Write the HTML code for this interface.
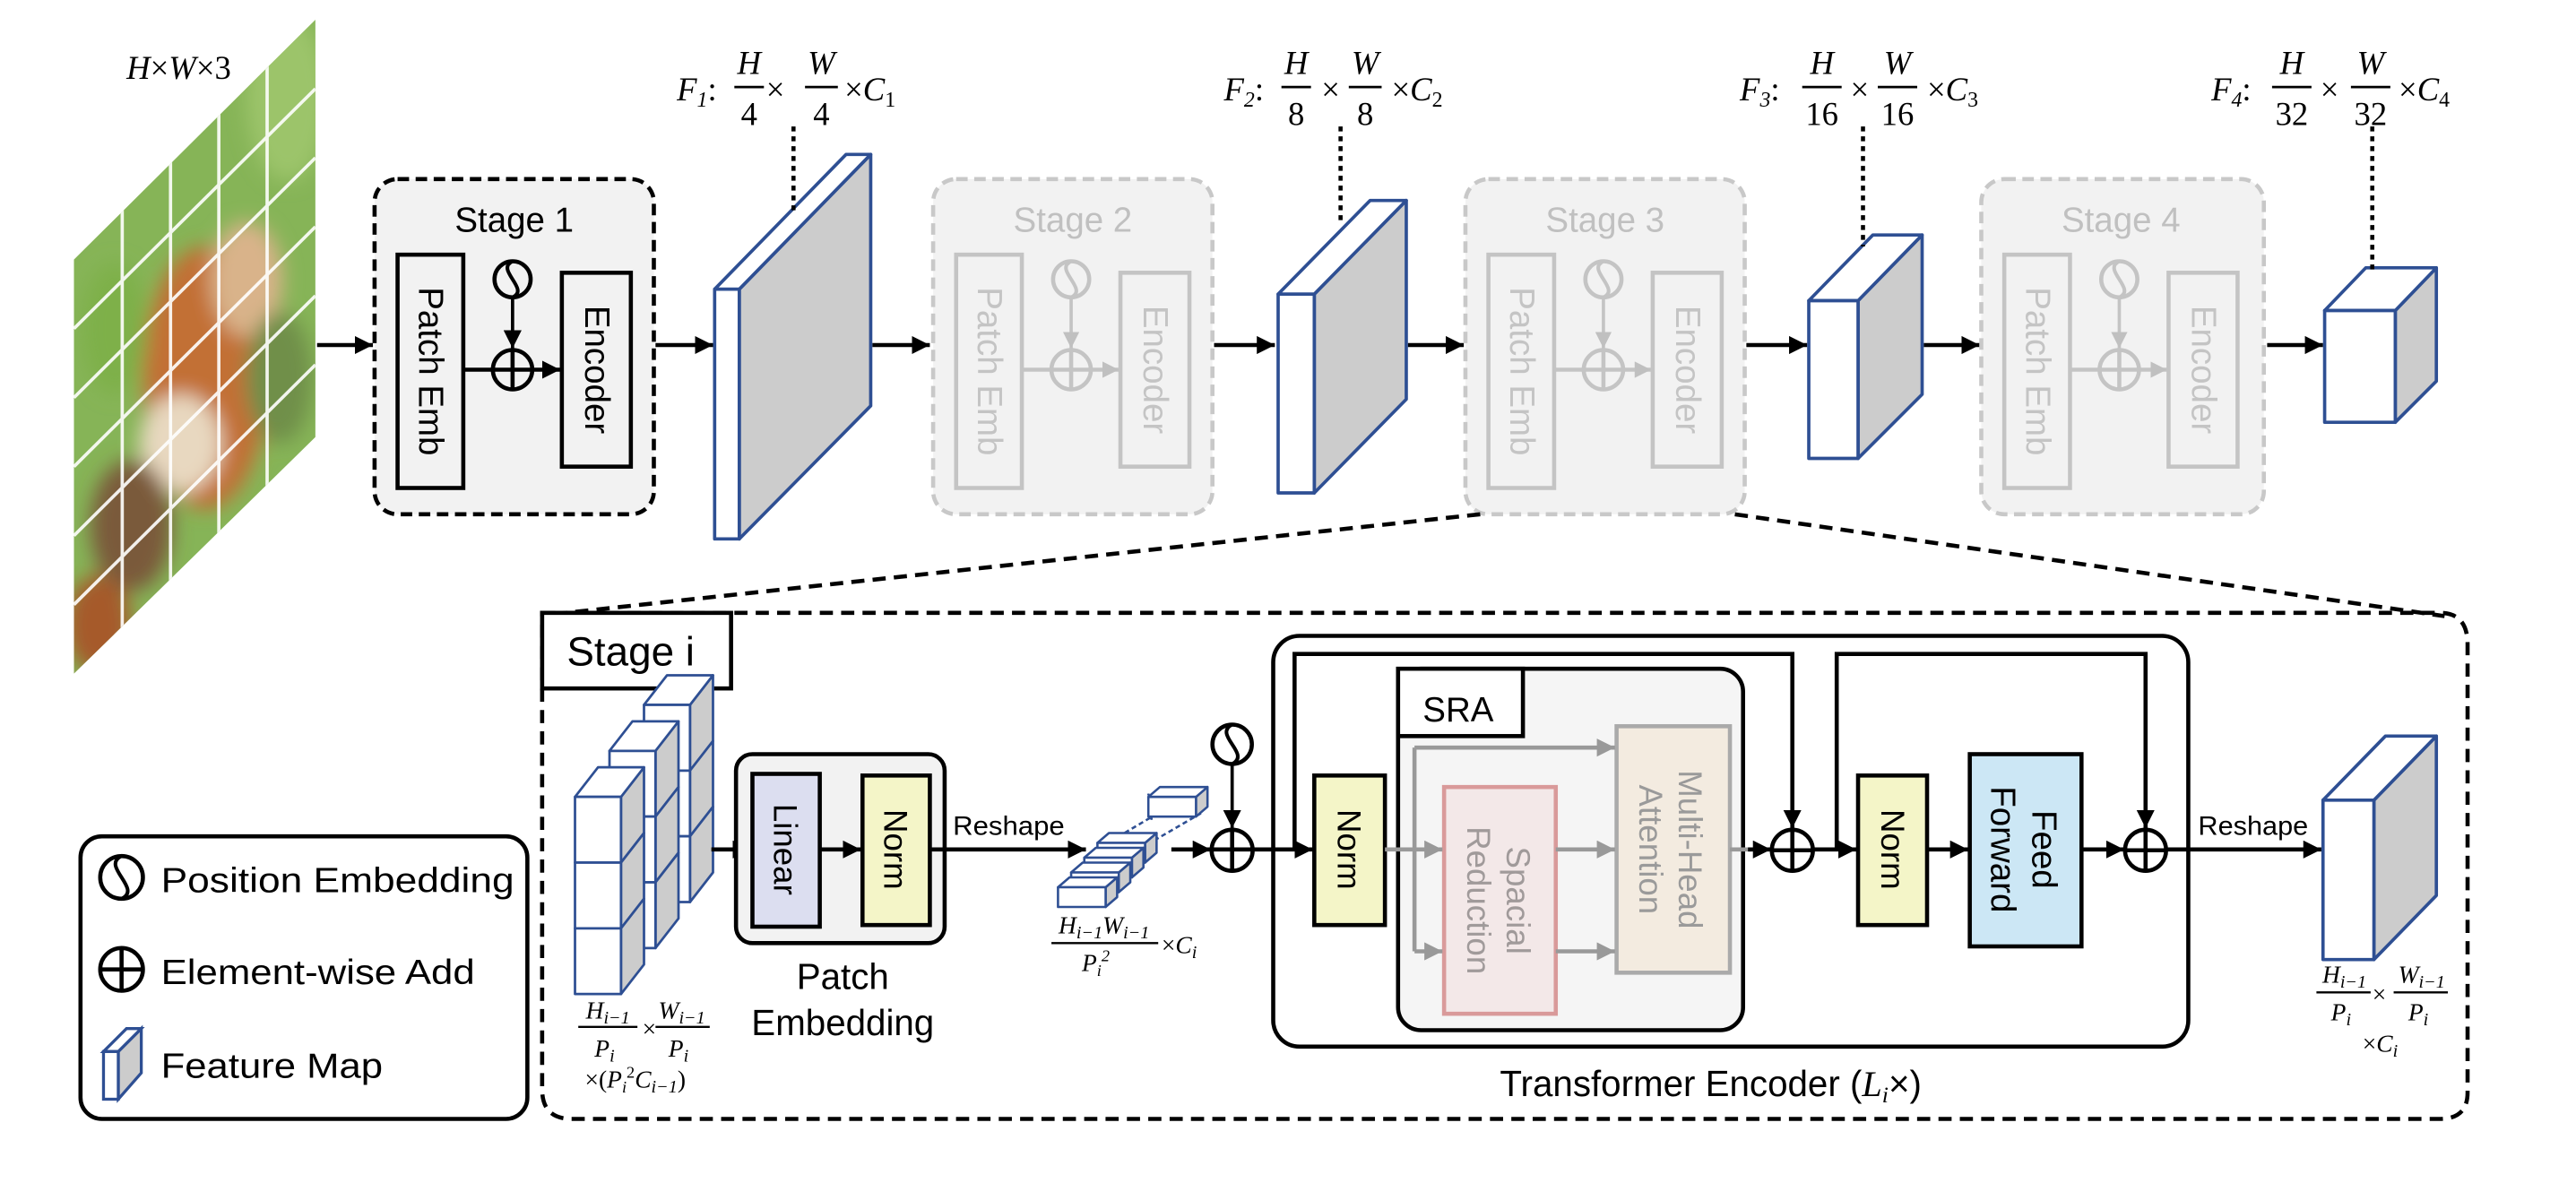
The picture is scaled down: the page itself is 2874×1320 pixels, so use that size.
<!DOCTYPE html>
<html><head><meta charset="utf-8">
<style>
html,body{margin:0;padding:0;background:#fff;}
svg{display:block;}
text{font-family:"Liberation Sans",sans-serif;}
.m{font-family:"Liberation Serif",serif;font-style:italic;}
.n{font-family:"Liberation Serif",serif;}
</style></head>
<body>
<svg width="2874" height="1320" viewBox="0 0 1568 720" preserveAspectRatio="none" xmlns="http://www.w3.org/2000/svg">
<defs>
<marker id="a" viewBox="0 0 10 10" refX="10" refY="5" markerWidth="11" markerHeight="11" markerUnits="userSpaceOnUse" orient="auto"><path d="M0,0 L10,5 L0,10 z" fill="#000"/></marker>
<marker id="g" viewBox="0 0 10 10" refX="10" refY="5" markerWidth="11" markerHeight="11" markerUnits="userSpaceOnUse" orient="auto"><path d="M0,0 L10,5 L0,10 z" fill="#999"/></marker>
<marker id="lg" viewBox="0 0 10 10" refX="10" refY="5" markerWidth="10" markerHeight="10" markerUnits="userSpaceOnUse" orient="auto"><path d="M0,0 L10,5 L0,10 z" fill="#c0c0c0"/></marker>
<clipPath id="img"><polygon points="45,158 192,12 192,266 45,410"/></clipPath>
<filter id="bl"><feGaussianBlur stdDeviation="6"/></filter>
</defs>

<!-- input image -->
<g clip-path="url(#img)">
<rect x="40" y="0" width="160" height="420" fill="#86b457"/>
<g filter="url(#bl)">
<ellipse cx="175" cy="60" rx="25" ry="50" fill="#9cc46a"/>
<ellipse cx="125" cy="230" rx="38" ry="80" fill="#c27034"/>
<ellipse cx="150" cy="170" rx="22" ry="35" fill="#d9b38a"/>
<ellipse cx="110" cy="270" rx="25" ry="30" fill="#e8d8c0"/>
<ellipse cx="80" cy="320" rx="25" ry="40" fill="#7a5a3a"/>
<ellipse cx="170" cy="230" rx="20" ry="40" fill="#6f8f4a"/>
<ellipse cx="60" cy="380" rx="20" ry="30" fill="#a65a2a"/>
<ellipse cx="70" cy="200" rx="20" ry="40" fill="#7eb04a"/>
</g>
<g stroke="#fff" stroke-width="2" opacity="0.9">
<line x1="74.4" y1="0" x2="74.4" y2="420"/><line x1="103.8" y1="0" x2="103.8" y2="420"/>
<line x1="133.2" y1="0" x2="133.2" y2="420"/><line x1="162.6" y1="0" x2="162.6" y2="420"/>
<line x1="45" y1="200" x2="192" y2="54"/><line x1="45" y1="242" x2="192" y2="96"/>
<line x1="45" y1="284" x2="192" y2="138"/><line x1="45" y1="326" x2="192" y2="180"/>
<line x1="45" y1="368" x2="192" y2="222"/>
</g>
</g>
<text x="77" y="48" class="m" font-size="20">H<tspan class="n" font-style="normal">×</tspan>W<tspan class="n" font-style="normal">×3</tspan></text>

<!-- top arrows -->
<g stroke="#000" stroke-width="2.5" marker-end="url(#a)">
<line x1="193" y1="210" x2="227" y2="210"/>
<line x1="399" y1="210" x2="434" y2="210"/>
<line x1="531" y1="210" x2="566" y2="210"/>
<line x1="739" y1="210" x2="776" y2="210"/>
<line x1="857" y1="210" x2="891" y2="210"/>
<line x1="1063" y1="210" x2="1100" y2="210"/>
<line x1="1171" y1="210" x2="1205" y2="210"/>
<line x1="1380" y1="210" x2="1414" y2="210"/>
</g>

<!-- Stage 1 -->
<rect x="228" y="109" width="170" height="204" rx="14" fill="#f2f2f2" stroke="#000" stroke-width="2.5" stroke-dasharray="7 4"/>
<text x="313" y="141" font-size="21" text-anchor="middle">Stage 1</text>
<rect x="242" y="155" width="40" height="142" fill="none" stroke="#000" stroke-width="2.5"/>
<text transform="translate(262,226) rotate(90)" font-size="21" text-anchor="middle" dominant-baseline="central">Patch Emb</text>
<rect x="342" y="166" width="42" height="118" fill="none" stroke="#000" stroke-width="2.5"/>
<text transform="translate(363,225) rotate(90)" font-size="21" text-anchor="middle" dominant-baseline="central">Encoder</text>
<circle cx="312" cy="170" r="11" fill="none" stroke="#000" stroke-width="2.5"/>
<path d="M312,159 C301,164 323,176 312,181" fill="none" stroke="#000" stroke-width="2.2"/>
<line x1="312" y1="181" x2="312" y2="212" stroke="#000" stroke-width="2" marker-end="url(#a)"/>
<circle cx="312" cy="225" r="12" fill="none" stroke="#000" stroke-width="2.5"/>
<line x1="312" y1="213" x2="312" y2="237" stroke="#000" stroke-width="2.5"/>
<line x1="282" y1="225" x2="341" y2="225" stroke="#000" stroke-width="2.5" marker-end="url(#a)"/>

<!-- Stages 2-4 (grey) -->
<g>
<rect x="568" y="109" width="170" height="204" rx="14" fill="#f2f2f2" stroke="#c8c8c8" stroke-width="2.5" stroke-dasharray="7 4"/>
<text x="653" y="141" font-size="21" text-anchor="middle" fill="#c0c0c0">Stage 2</text>
<rect x="582" y="155" width="40" height="142" fill="none" stroke="#c4c4c4" stroke-width="2.5"/>
<text transform="translate(602,226) rotate(90)" font-size="21" text-anchor="middle" dominant-baseline="central" fill="#c4c4c4">Patch Emb</text>
<rect x="682" y="166" width="42" height="118" fill="none" stroke="#c4c4c4" stroke-width="2.5"/>
<text transform="translate(703,225) rotate(90)" font-size="21" text-anchor="middle" dominant-baseline="central" fill="#c4c4c4">Encoder</text>
<circle cx="652" cy="170" r="11" fill="none" stroke="#c4c4c4" stroke-width="2.5"/>
<path d="M652,159 C641,164 663,176 652,181" fill="none" stroke="#c4c4c4" stroke-width="2.2"/>
<line x1="652" y1="181" x2="652" y2="212" stroke="#c4c4c4" stroke-width="2" marker-end="url(#lg)"/>
<circle cx="652" cy="225" r="12" fill="none" stroke="#c4c4c4" stroke-width="2.5"/>
<line x1="652" y1="213" x2="652" y2="237" stroke="#c4c4c4" stroke-width="2.5"/>
<line x1="622" y1="225" x2="681" y2="225" stroke="#c4c4c4" stroke-width="2.5" marker-end="url(#lg)"/>
</g>
<g>
<rect x="892" y="109" width="170" height="204" rx="14" fill="#f2f2f2" stroke="#c8c8c8" stroke-width="2.5" stroke-dasharray="7 4"/>
<text x="977" y="141" font-size="21" text-anchor="middle" fill="#c0c0c0">Stage 3</text>
<rect x="906" y="155" width="40" height="142" fill="none" stroke="#c4c4c4" stroke-width="2.5"/>
<text transform="translate(926,226) rotate(90)" font-size="21" text-anchor="middle" dominant-baseline="central" fill="#c4c4c4">Patch Emb</text>
<rect x="1006" y="166" width="42" height="118" fill="none" stroke="#c4c4c4" stroke-width="2.5"/>
<text transform="translate(1027,225) rotate(90)" font-size="21" text-anchor="middle" dominant-baseline="central" fill="#c4c4c4">Encoder</text>
<circle cx="976" cy="170" r="11" fill="none" stroke="#c4c4c4" stroke-width="2.5"/>
<path d="M976,159 C965,164 987,176 976,181" fill="none" stroke="#c4c4c4" stroke-width="2.2"/>
<line x1="976" y1="181" x2="976" y2="212" stroke="#c4c4c4" stroke-width="2" marker-end="url(#lg)"/>
<circle cx="976" cy="225" r="12" fill="none" stroke="#c4c4c4" stroke-width="2.5"/>
<line x1="976" y1="213" x2="976" y2="237" stroke="#c4c4c4" stroke-width="2.5"/>
<line x1="946" y1="225" x2="1005" y2="225" stroke="#c4c4c4" stroke-width="2.5" marker-end="url(#lg)"/>
</g>
<g>
<rect x="1206" y="109" width="172" height="204" rx="14" fill="#f2f2f2" stroke="#c8c8c8" stroke-width="2.5" stroke-dasharray="7 4"/>
<text x="1291" y="141" font-size="21" text-anchor="middle" fill="#c0c0c0">Stage 4</text>
<rect x="1220" y="155" width="40" height="142" fill="none" stroke="#c4c4c4" stroke-width="2.5"/>
<text transform="translate(1240,226) rotate(90)" font-size="21" text-anchor="middle" dominant-baseline="central" fill="#c4c4c4">Patch Emb</text>
<rect x="1320" y="166" width="42" height="118" fill="none" stroke="#c4c4c4" stroke-width="2.5"/>
<text transform="translate(1341,225) rotate(90)" font-size="21" text-anchor="middle" dominant-baseline="central" fill="#c4c4c4">Encoder</text>
<circle cx="1290" cy="170" r="11" fill="none" stroke="#c4c4c4" stroke-width="2.5"/>
<path d="M1290,159 C1279,164 1301,176 1290,181" fill="none" stroke="#c4c4c4" stroke-width="2.2"/>
<line x1="1290" y1="181" x2="1290" y2="212" stroke="#c4c4c4" stroke-width="2" marker-end="url(#lg)"/>
<circle cx="1290" cy="225" r="12" fill="none" stroke="#c4c4c4" stroke-width="2.5"/>
<line x1="1290" y1="213" x2="1290" y2="237" stroke="#c4c4c4" stroke-width="2.5"/>
<line x1="1260" y1="225" x2="1319" y2="225" stroke="#c4c4c4" stroke-width="2.5" marker-end="url(#lg)"/>
</g>

<!-- feature maps -->
<g stroke="#2e4f93" stroke-width="2" stroke-linejoin="round">
<polygon points="450,176 530,94 530,247 450,328" fill="#cccccc"/>
<polygon points="435,176 515,94 530,94 450,176" fill="#fff"/>
<rect x="435" y="176" width="15" height="152" fill="#fff"/>
<polygon points="800,179 856,122 856,243 800,300" fill="#cccccc"/>
<polygon points="778,179 834,122 856,122 800,179" fill="#fff"/>
<rect x="778" y="179" width="22" height="121" fill="#fff"/>
<polygon points="1131,183 1170,143 1170,240 1131,279" fill="#cccccc"/>
<polygon points="1101,183 1140,143 1170,143 1131,183" fill="#fff"/>
<rect x="1101" y="183" width="30" height="96" fill="#fff"/>
<polygon points="1458,189 1483,163 1483,232 1458,257" fill="#cccccc"/>
<polygon points="1415,189 1440,163 1483,163 1458,189" fill="#fff"/>
<rect x="1415" y="189" width="43" height="68" fill="#fff"/>
</g>
<g stroke="#000" stroke-width="2.5" stroke-dasharray="3 3">
<line x1="483" y1="77" x2="483" y2="131"/>
<line x1="816" y1="77" x2="816" y2="137"/>
<line x1="1134" y1="77" x2="1134" y2="150"/>
<line x1="1444" y1="77" x2="1444" y2="165"/>
</g>

<!-- F labels -->
<g font-size="20">
<text x="412" y="61" class="m">F<tspan font-size="13" dy="4">1</tspan><tspan class="n" font-style="normal" dy="-4">:</tspan></text>
<text x="456" y="45" class="m" text-anchor="middle">H</text><line x1="447" y1="53" x2="465" y2="53" stroke="#000" stroke-width="1.5"/><text x="456" y="76" class="n" text-anchor="middle">4</text>
<text x="472" y="61" class="n" text-anchor="middle">×</text>
<text x="500" y="45" class="m" text-anchor="middle">W</text><line x1="490" y1="53" x2="510" y2="53" stroke="#000" stroke-width="1.5"/><text x="500" y="76" class="n" text-anchor="middle">4</text>
<text x="514" y="61" class="n">×<tspan class="m">C</tspan><tspan class="n" font-size="13" dy="4">1</tspan></text>

<text x="745" y="61" class="m">F<tspan font-size="13" dy="4">2</tspan><tspan class="n" font-style="normal" dy="-4">:</tspan></text>
<text x="789" y="45" class="m" text-anchor="middle">H</text><line x1="780" y1="53" x2="798" y2="53" stroke="#000" stroke-width="1.5"/><text x="789" y="76" class="n" text-anchor="middle">8</text>
<text x="810" y="61" class="n" text-anchor="middle">×</text>
<text x="831" y="45" class="m" text-anchor="middle">W</text><line x1="821" y1="53" x2="841" y2="53" stroke="#000" stroke-width="1.5"/><text x="831" y="76" class="n" text-anchor="middle">8</text>
<text x="847" y="61" class="n">×<tspan class="m">C</tspan><tspan class="n" font-size="13" dy="4">2</tspan></text>

<text x="1059" y="61" class="m">F<tspan font-size="13" dy="4">3</tspan><tspan class="n" font-style="normal" dy="-4">:</tspan></text>
<text x="1109" y="45" class="m" text-anchor="middle">H</text><line x1="1097" y1="53" x2="1121" y2="53" stroke="#000" stroke-width="1.5"/><text x="1109" y="76" class="n" text-anchor="middle">16</text>
<text x="1132" y="61" class="n" text-anchor="middle">×</text>
<text x="1155" y="45" class="m" text-anchor="middle">W</text><line x1="1143" y1="53" x2="1167" y2="53" stroke="#000" stroke-width="1.5"/><text x="1155" y="76" class="n" text-anchor="middle">16</text>
<text x="1173" y="61" class="n">×<tspan class="m">C</tspan><tspan class="n" font-size="13" dy="4">3</tspan></text>

<text x="1346" y="61" class="m">F<tspan font-size="13" dy="4">4</tspan><tspan class="n" font-style="normal" dy="-4">:</tspan></text>
<text x="1395" y="45" class="m" text-anchor="middle">H</text><line x1="1383" y1="53" x2="1407" y2="53" stroke="#000" stroke-width="1.5"/><text x="1395" y="76" class="n" text-anchor="middle">32</text>
<text x="1418" y="61" class="n" text-anchor="middle">×</text>
<text x="1443" y="45" class="m" text-anchor="middle">W</text><line x1="1431" y1="53" x2="1455" y2="53" stroke="#000" stroke-width="1.5"/><text x="1443" y="76" class="n" text-anchor="middle">32</text>
<text x="1460" y="61" class="n">×<tspan class="m">C</tspan><tspan class="n" font-size="13" dy="4">4</tspan></text>
</g>

<!-- zoom lines -->
<g stroke="#000" stroke-width="2.5" stroke-dasharray="8 5" fill="none">
<line x1="901" y1="313" x2="335" y2="374"/>
<line x1="1056" y1="313" x2="1488" y2="375"/>
<path d="M330,373 L1485,373 Q1502,373 1502,392 L1502,665 Q1502,681 1485,681 L348,681 Q330,681 330,663 Z"/>
</g>

<!-- Stage i label -->
<rect x="330" y="373" width="115" height="46" fill="#fff" stroke="#000" stroke-width="2.5"/>
<text x="345" y="405" font-size="25">Stage i</text>

<!-- legend -->
<rect x="49" y="509" width="272" height="172" rx="13" fill="#fff" stroke="#000" stroke-width="2.5"/>
<circle cx="74" cy="534" r="13" fill="none" stroke="#000" stroke-width="2.5"/>
<path d="M74,521 C61,527 87,541 74,547" fill="none" stroke="#000" stroke-width="2.2"/>
<text x="98" y="543" font-size="21" textLength="215" lengthAdjust="spacingAndGlyphs">Position Embedding</text>
<circle cx="74" cy="590" r="13" fill="none" stroke="#000" stroke-width="2.5"/>
<line x1="61" y1="590" x2="87" y2="590" stroke="#000" stroke-width="2.5"/>
<line x1="74" y1="577" x2="74" y2="603" stroke="#000" stroke-width="2.5"/>
<text x="98" y="599" font-size="21" textLength="191" lengthAdjust="spacingAndGlyphs">Element-wise Add</text>
<g stroke="#2e4f93" stroke-width="1.8">
<polygon points="72,640 86,626 86,653 72,669" fill="#cccccc"/>
<polygon points="63,640 77,626 86,626 72,640" fill="#fff"/>
<rect x="63" y="640" width="9" height="29" fill="#fff"/>
</g>
<text x="98" y="656" font-size="21" textLength="135" lengthAdjust="spacingAndGlyphs">Feature Map</text>

<!-- cube grid -->
<g stroke="#2e4f93" stroke-width="1.5" stroke-linejoin="round">
<g transform="translate(42,-56)">
<polygon points="378,485 392,467 392,507 378,525" fill="#ccc"/><polygon points="350,485 364,467 392,467 378,485" fill="#fff"/><rect x="350" y="485" width="28" height="40" fill="#fff"/>
<polygon points="378,525 392,507 392,547 378,565" fill="#ccc"/><rect x="350" y="525" width="28" height="40" fill="#fff"/>
<polygon points="378,565 392,547 392,587 378,605" fill="#ccc"/><rect x="350" y="565" width="28" height="40" fill="#fff"/>
</g>
<g transform="translate(21,-28)">
<polygon points="378,485 392,467 392,507 378,525" fill="#ccc"/><polygon points="350,485 364,467 392,467 378,485" fill="#fff"/><rect x="350" y="485" width="28" height="40" fill="#fff"/>
<polygon points="378,525 392,507 392,547 378,565" fill="#ccc"/><rect x="350" y="525" width="28" height="40" fill="#fff"/>
<polygon points="378,565 392,547 392,587 378,605" fill="#ccc"/><rect x="350" y="565" width="28" height="40" fill="#fff"/>
</g>
<g>
<polygon points="378,485 392,467 392,507 378,525" fill="#ccc"/><polygon points="350,485 364,467 392,467 378,485" fill="#fff"/><rect x="350" y="485" width="28" height="40" fill="#fff"/>
<polygon points="378,525 392,507 392,547 378,565" fill="#ccc"/><rect x="350" y="525" width="28" height="40" fill="#fff"/>
<polygon points="378,565 392,547 392,587 378,605" fill="#ccc"/><rect x="350" y="565" width="28" height="40" fill="#fff"/>
</g>
</g>
<g font-size="15">
<text x="370" y="620" class="m" text-anchor="middle">H<tspan font-size="11" dy="3">i−1</tspan></text>
<line x1="352" y1="625" x2="388" y2="625" stroke="#000" stroke-width="1.3"/>
<text x="368" y="643" class="m" text-anchor="middle">P<tspan font-size="11" dy="3">i</tspan></text>
<text x="391" y="631" class="n" font-size="15">×</text>
<text x="415" y="620" class="m" text-anchor="middle">W<tspan font-size="11" dy="3">i−1</tspan></text>
<line x1="399" y1="625" x2="432" y2="625" stroke="#000" stroke-width="1.3"/>
<text x="413" y="643" class="m" text-anchor="middle">P<tspan font-size="11" dy="3">i</tspan></text>
<text x="356" y="662" class="n">×(<tspan class="m">P</tspan><tspan class="m" font-size="10" dy="3">i</tspan><tspan class="n" font-size="10" dy="-9">2</tspan><tspan class="m" dy="6">C</tspan><tspan class="m" font-size="11" dy="3">i−1</tspan><tspan dy="-3">)</tspan></text>
</g>

<!-- patch embedding -->
<line x1="433" y1="517" x2="457" y2="517" stroke="#000" stroke-width="2.5" marker-end="url(#a)"/>
<rect x="448" y="459" width="127" height="115" rx="10" fill="#f2f2f2" stroke="#000" stroke-width="2.5"/>
<rect x="458" y="471" width="41" height="93" fill="#dcdef0" stroke="#000" stroke-width="2.5"/>
<text transform="translate(478,517) rotate(90)" font-size="20" text-anchor="middle" dominant-baseline="central">Linear</text>
<rect x="525" y="472" width="41" height="91" fill="#f4f5c8" stroke="#000" stroke-width="2.5"/>
<text transform="translate(545,517) rotate(90)" font-size="20" text-anchor="middle" dominant-baseline="central">Norm</text>
<line x1="499" y1="517" x2="524" y2="517" stroke="#000" stroke-width="2.5" marker-end="url(#a)"/>
<text x="513" y="602" font-size="22" text-anchor="middle">Patch</text>
<text x="513" y="630" font-size="22" text-anchor="middle">Embedding</text>
<text x="580" y="508" font-size="16" textLength="68" lengthAdjust="spacingAndGlyphs">Reshape</text>
<line x1="566" y1="517" x2="661" y2="517" stroke="#000" stroke-width="2.5" marker-end="url(#a)"/>

<!-- flattened patches -->
<g stroke="#2e4f93" stroke-width="1.4" stroke-linejoin="round">
<line x1="676" y1="512" x2="725" y2="483" stroke-dasharray="3 2"/>
<line x1="681" y1="524" x2="731" y2="495" stroke-dasharray="3 2"/>
<line x1="701" y1="499" x2="699" y2="483" stroke-dasharray="3 2"/>
<g transform="translate(55,-55)"><polygon points="673,540 680,534 680,546 673,552" fill="#ccc"/><polygon points="644,540 651,534 680,534 673,540" fill="#fff"/><rect x="644" y="540" width="29" height="12" fill="#fff"/></g>
<g transform="translate(24,-27)"><polygon points="673,540 680,534 680,546 673,552" fill="#ccc"/><polygon points="644,540 651,534 680,534 673,540" fill="#fff"/><rect x="644" y="540" width="29" height="12" fill="#fff"/></g>
<g transform="translate(16,-18)"><polygon points="673,540 680,534 680,546 673,552" fill="#ccc"/><polygon points="644,540 651,534 680,534 673,540" fill="#fff"/><rect x="644" y="540" width="29" height="12" fill="#fff"/></g>
<g transform="translate(8,-9)"><polygon points="673,540 680,534 680,546 673,552" fill="#ccc"/><polygon points="644,540 651,534 680,534 673,540" fill="#fff"/><rect x="644" y="540" width="29" height="12" fill="#fff"/></g>
<g><polygon points="673,540 680,534 680,546 673,552" fill="#ccc"/><polygon points="644,540 651,534 680,534 673,540" fill="#fff"/><rect x="644" y="540" width="29" height="12" fill="#fff"/></g>
</g>
<g font-size="15">
<text x="672" y="568" class="m" text-anchor="middle">H<tspan font-size="11" dy="3">i−1</tspan><tspan dy="-3">W</tspan><tspan font-size="11" dy="3">i−1</tspan></text>
<line x1="640" y1="574" x2="705" y2="574" stroke="#000" stroke-width="1.3"/>
<text x="667" y="591" class="m" text-anchor="middle">P<tspan font-size="10" dy="3">i</tspan><tspan class="n" font-size="10" dy="-9">2</tspan></text>
<text x="707" y="580" class="n">×<tspan class="m">C</tspan><tspan class="m" font-size="11" dy="3">i</tspan></text>
</g>

<!-- pos emb + add -->
<circle cx="750" cy="453" r="12" fill="none" stroke="#000" stroke-width="2.5"/>
<path d="M750,441 C738,447 762,459 750,465" fill="none" stroke="#000" stroke-width="2.2"/>
<line x1="750" y1="465" x2="750" y2="504" stroke="#000" stroke-width="2" marker-end="url(#a)"/>
<line x1="713" y1="517" x2="737" y2="517" stroke="#000" stroke-width="2.5" marker-end="url(#a)"/>
<circle cx="750" cy="517.5" r="12.5" fill="none" stroke="#000" stroke-width="2.5"/>
<line x1="750" y1="505" x2="750" y2="530" stroke="#000" stroke-width="2.5"/>

<!-- transformer encoder -->
<rect x="775" y="387" width="557" height="250" rx="16" fill="#fff" stroke="#000" stroke-width="2.5"/>
<line x1="737" y1="517" x2="799" y2="517" stroke="#000" stroke-width="2.5" marker-end="url(#a)"/>
<polyline points="788,517 788,398 1091,398 1091,504" fill="none" stroke="#000" stroke-width="2.5" marker-end="url(#a)"/>
<rect x="800" y="472" width="43" height="91" fill="#f4f5c8" stroke="#000" stroke-width="2.5"/>
<text transform="translate(821,517) rotate(90)" font-size="20" text-anchor="middle" dominant-baseline="central">Norm</text>

<rect x="851" y="407" width="210" height="220" rx="14" fill="#f5f5f5" stroke="#000" stroke-width="2.5"/>
<rect x="851" y="407" width="76" height="41" fill="#fff" stroke="#000" stroke-width="2.5"/>
<text x="866" y="439" font-size="21">SRA</text>

<rect x="879" y="479" width="68" height="138" fill="#f3e8e8" stroke="#d99a9a" stroke-width="2.5"/>
<text transform="translate(913,548) rotate(90)" font-size="20" text-anchor="middle" fill="#a09a9a"><tspan x="0" dy="-4">Spacial</tspan><tspan x="0" dy="24">Reduction</tspan></text>
<rect x="984" y="442" width="69" height="150" fill="#f3ebe0" stroke="#aaa" stroke-width="2.5"/>
<text transform="translate(1018,517) rotate(90)" font-size="20" text-anchor="middle" fill="#9a9a9a"><tspan x="0" dy="-4">Multi-Head</tspan><tspan x="0" dy="24">Attention</tspan></text>

<g stroke="#999" stroke-width="2.5" fill="none">
<line x1="843" y1="517" x2="861" y2="517"/>
<line x1="861" y1="455" x2="861" y2="579"/>
<line x1="861" y1="455" x2="983" y2="455" marker-end="url(#g)"/>
<line x1="861" y1="517" x2="878" y2="517" marker-end="url(#g)"/>
<line x1="861" y1="579" x2="878" y2="579" marker-end="url(#g)"/>
<line x1="947" y1="517" x2="983" y2="517" marker-end="url(#g)"/>
<line x1="947" y1="579" x2="983" y2="579" marker-end="url(#g)"/>
<line x1="1053" y1="517" x2="1066" y2="517"/>
</g>
<line x1="1064" y1="517" x2="1078" y2="517" stroke="#000" stroke-width="2.5" marker-end="url(#a)"/>
<circle cx="1091" cy="517.5" r="12.5" fill="none" stroke="#000" stroke-width="2.5"/>
<line x1="1091" y1="505" x2="1091" y2="530" stroke="#000" stroke-width="2.5"/>
<line x1="1078" y1="517.5" x2="1104" y2="517.5" stroke="#000" stroke-width="2.5"/>
<line x1="1103" y1="517" x2="1130" y2="517" stroke="#000" stroke-width="2.5" marker-end="url(#a)"/>
<polyline points="1118,517 1118,398 1306,398 1306,504" fill="none" stroke="#000" stroke-width="2.5" marker-end="url(#a)"/>
<rect x="1131" y="472" width="42" height="91" fill="#f4f5c8" stroke="#000" stroke-width="2.5"/>
<text transform="translate(1152,517) rotate(90)" font-size="20" text-anchor="middle" dominant-baseline="central">Norm</text>
<line x1="1173" y1="517" x2="1198" y2="517" stroke="#000" stroke-width="2.5" marker-end="url(#a)"/>
<rect x="1199" y="459" width="68" height="117" fill="#cce7f5" stroke="#000" stroke-width="2.5"/>
<text transform="translate(1233,517) rotate(90)" font-size="21" text-anchor="middle"><tspan x="0" dy="-4">Feed</tspan><tspan x="0" dy="25">Forward</tspan></text>
<line x1="1267" y1="517" x2="1293" y2="517" stroke="#000" stroke-width="2.5" marker-end="url(#a)"/>
<circle cx="1306" cy="517.5" r="12.5" fill="none" stroke="#000" stroke-width="2.5"/>
<line x1="1306" y1="505" x2="1306" y2="530" stroke="#000" stroke-width="2.5"/>
<line x1="1293" y1="517.5" x2="1319" y2="517.5" stroke="#000" stroke-width="2.5"/>
<line x1="1318" y1="517" x2="1413" y2="517" stroke="#000" stroke-width="2.5" marker-end="url(#a)"/>
<text x="1338" y="508" font-size="16" textLength="67" lengthAdjust="spacingAndGlyphs">Reshape</text>

<text x="913" y="667" font-size="22">Transformer Encoder (<tspan class="m">L</tspan><tspan class="m" font-size="14" dy="4">i</tspan><tspan dy="-4">×)</tspan></text>

<!-- output feature map -->
<g stroke="#2e4f93" stroke-width="2" stroke-linejoin="round">
<polygon points="1445,487 1483,448 1483,545 1445,584" fill="#cccccc"/>
<polygon points="1414,487 1452,448 1483,448 1445,487" fill="#fff"/>
<rect x="1414" y="487" width="31" height="97" fill="#fff"/>
</g>
<g font-size="15">
<text x="1427" y="598" class="m" text-anchor="middle">H<tspan font-size="11" dy="3">i−1</tspan></text>
<line x1="1410" y1="604" x2="1443" y2="604" stroke="#000" stroke-width="1.3"/>
<text x="1425" y="621" class="m" text-anchor="middle">P<tspan font-size="11" dy="3">i</tspan></text>
<text x="1444" y="610" class="n">×</text>
<text x="1474" y="598" class="m" text-anchor="middle">W<tspan font-size="11" dy="3">i−1</tspan></text>
<line x1="1457" y1="604" x2="1490" y2="604" stroke="#000" stroke-width="1.3"/>
<text x="1472" y="621" class="m" text-anchor="middle">P<tspan font-size="11" dy="3">i</tspan></text>
<text x="1438" y="640" class="n">×<tspan class="m">C</tspan><tspan class="m" font-size="11" dy="3">i</tspan></text>
</g>
</svg>
</body></html>
